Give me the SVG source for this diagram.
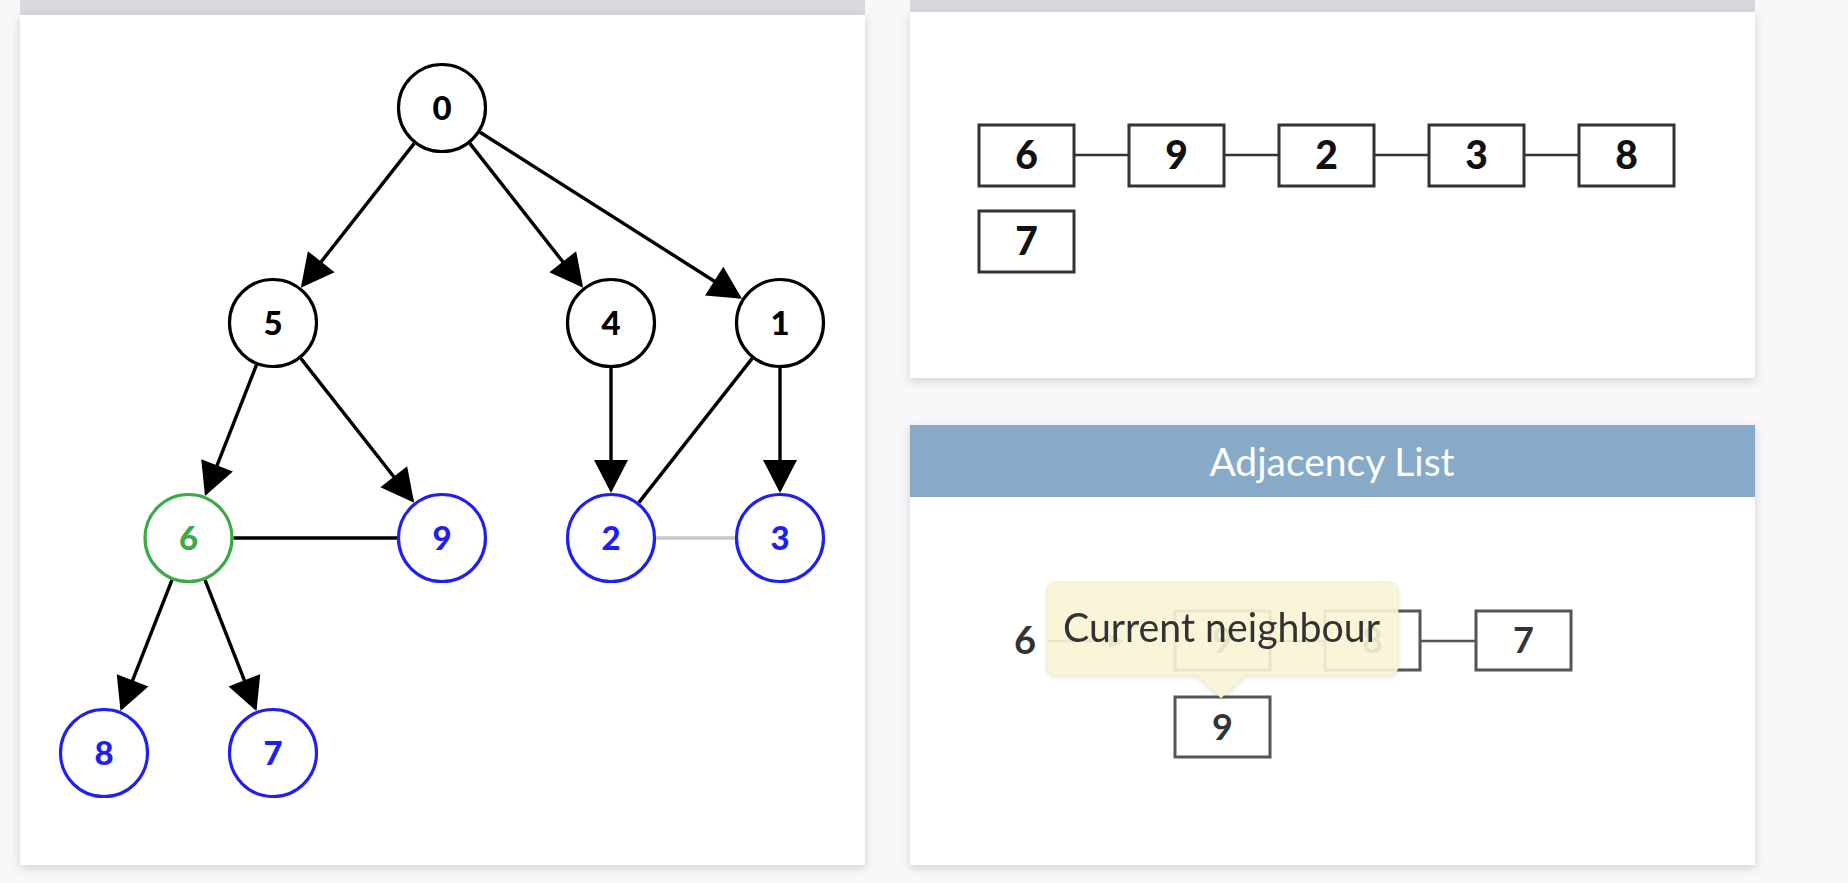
<svg xmlns="http://www.w3.org/2000/svg" width="1848" height="883" viewBox="0 0 1848 883">
<defs>
<filter id="sh" x="-5%" y="-5%" width="110%" height="110%">
<feDropShadow dx="0" dy="3" stdDeviation="5" flood-color="#000" flood-opacity="0.16"/>
</filter>
<filter id="tsh" x="-5%" y="-10%" width="110%" height="125%">
<feDropShadow dx="0" dy="2" stdDeviation="2" flood-color="#000" flood-opacity="0.12"/>
</filter>
<marker id="ah" markerUnits="userSpaceOnUse" markerWidth="36" markerHeight="36" refX="30" refY="17" orient="auto" overflow="visible">
<path d="M0,0 L33,17 L0,34 z" fill="#000"/>
</marker>
<marker id="sah" markerUnits="userSpaceOnUse" markerWidth="16" markerHeight="16" refX="14" refY="7" orient="auto" overflow="visible">
<path d="M0,0 L15,7 L0,14 z" fill="#555"/>
</marker>
</defs>
<style>
.panel{fill:#fff;filter:url(#sh)}
.band{fill:#d9d9dd}
.node circle{fill:#fff;stroke-width:3.2}
.blk circle{stroke:#000}
.blk text{fill:#000}
.grn circle{stroke:#3aaa46}
.grn text{fill:#3aaa46}
.blu circle{stroke:#1f1ff2}
.blu text{fill:#1f1ff2}
.node text{font-family:Lato,"Liberation Sans",sans-serif;font-weight:900;font-size:33px;text-anchor:middle}
.edge{stroke:#000;stroke-width:3.4;fill:none}
.arr{marker-end:url(#ah)}
.box rect{fill:#fff;stroke:#333;stroke-width:3}
.box text{font-family:Lato,"Liberation Sans",sans-serif;font-weight:900;font-size:39px;text-anchor:middle;fill:#111}
.box2 rect{fill:#fff;stroke:#555;stroke-width:3}
.box2 text{font-family:Lato,"Liberation Sans",sans-serif;font-weight:bold;font-size:36px;text-anchor:middle;fill:#333}
.link{stroke:#333;stroke-width:2.5}
.link2{stroke:#555;stroke-width:2.5}
</style>
<rect x="0" y="0" width="1848" height="883" fill="#f8f8fa"/>

<!-- panels -->
<g id="panel-graph">
<rect class="band" x="20" y="0" width="845" height="15"/>
<rect class="panel" x="20" y="15" width="845" height="850"/>
</g>
<g id="panel-queue">
<rect class="band" x="910" y="0" width="845" height="12"/>
<rect class="panel" x="910" y="12" width="845" height="366"/>
</g>
<g id="panel-adj">
<rect class="panel" x="910" y="425" width="845" height="440"/>
<rect x="910" y="425" width="845" height="72" fill="#88aac9"/>
<text x="1332" y="476" font-family="Lato,'Liberation Sans',sans-serif" font-size="39" fill="#fff" text-anchor="middle">Adjacency List</text>
</g>

<!-- connectors -->
<g id="connectors">
<line class="edge arr" x1="414.2" y1="143.4" x2="302.7" y2="285.3"/>
<line class="edge arr" x1="469.8" y1="143.4" x2="581.3" y2="285.3"/>
<line class="edge arr" x1="480" y1="132.2" x2="739.5" y2="297.2"/>
<line class="edge arr" x1="256.5" y1="364.9" x2="206.1" y2="493.3"/>
<line class="edge arr" x1="300.8" y1="358.4" x2="412.3" y2="500.3"/>
<line class="edge arr" x1="611" y1="368" x2="611" y2="490"/>
<line class="edge arr" x1="780" y1="368" x2="780" y2="490"/>
<line class="edge" x1="752.2" y1="358.4" x2="638.8" y2="502.6"/>
<line class="edge" x1="233.5" y1="538" x2="397" y2="538"/>
<line class="edge" x1="656" y1="538" x2="735" y2="538" style="stroke:#c8c8c8"/>
<line class="edge arr" x1="172" y1="579.9" x2="121.6" y2="708.3"/>
<line class="edge arr" x1="205" y1="579.9" x2="255.4" y2="708.3"/>
</g>

<!-- graph nodes -->
<g id="n0" class="node blk"><circle cx="442" cy="108" r="43.5"/><text x="442" y="120">0</text></g>
<g id="n5" class="node blk"><circle cx="273" cy="323" r="43.5"/><text x="273" y="335">5</text></g>
<g id="n4" class="node blk"><circle cx="611" cy="323" r="43.5"/><text x="611" y="335">4</text></g>
<g id="n1" class="node blk"><circle cx="780" cy="323" r="43.5"/><text x="780" y="335">1</text></g>
<g id="n6" class="node grn"><circle cx="188.5" cy="538" r="43.5"/><text x="188.5" y="550">6</text></g>
<g id="n9" class="node blu"><circle cx="442" cy="538" r="43.5"/><text x="442" y="550">9</text></g>
<g id="n2" class="node blu"><circle cx="611" cy="538" r="43.5"/><text x="611" y="550">2</text></g>
<g id="n3" class="node blu"><circle cx="780" cy="538" r="43.5"/><text x="780" y="550">3</text></g>
<g id="n8" class="node blu"><circle cx="104" cy="753" r="43.5"/><text x="104" y="765">8</text></g>
<g id="n7" class="node blu"><circle cx="273" cy="753" r="43.5"/><text x="273" y="765">7</text></g>

<!-- queue -->
<g id="queue-links">
<line class="link" x1="1074" y1="155" x2="1129" y2="155"/>
<line class="link" x1="1224" y1="155" x2="1279" y2="155"/>
<line class="link" x1="1374" y1="155" x2="1429" y2="155"/>
<line class="link" x1="1524" y1="155" x2="1579" y2="155"/>
</g>
<g id="q6" class="box"><rect x="979" y="125" width="95" height="61"/><text x="1026.5" y="169">6</text></g>
<g id="q9" class="box"><rect x="1129" y="125" width="95" height="61"/><text x="1176.5" y="169">9</text></g>
<g id="q2" class="box"><rect x="1279" y="125" width="95" height="61"/><text x="1326.5" y="169">2</text></g>
<g id="q3" class="box"><rect x="1429" y="125" width="95" height="61"/><text x="1476.5" y="169">3</text></g>
<g id="q8" class="box"><rect x="1579" y="125" width="95" height="61"/><text x="1626.5" y="169">8</text></g>
<g id="q7" class="box"><rect x="979" y="211" width="95" height="61"/><text x="1026.5" y="255">7</text></g>

<!-- adjacency list -->
<g id="adj-links">
<line class="link2" x1="1048" y1="641" x2="1123" y2="641" marker-end="url(#sah)"/>
<line class="link2" x1="1270" y1="641" x2="1325" y2="641"/>
<line class="link2" x1="1420" y1="641" x2="1476" y2="641"/>
</g>
<g id="adj-head"><text x="1025" y="654" font-family="Lato,'Liberation Sans',sans-serif" font-weight="bold" font-size="38" fill="#333" text-anchor="middle">6</text></g>
<g id="a9" class="box2"><rect x="1175" y="611" width="95" height="59"/><text x="1222.5" y="653">9</text></g>
<g id="a8" class="box2"><rect x="1325" y="611" width="95" height="59"/><text x="1372.5" y="653">8</text></g>
<g id="a7" class="box2"><rect x="1476" y="611" width="95" height="59"/><text x="1523.5" y="653">7</text></g>
<g id="a9b" class="box2"><rect x="1175" y="697" width="95" height="60"/><text x="1222.5" y="740">9</text></g>

<!-- tooltip -->
<g id="tooltip" filter="url(#tsh)">
<path d="M1055,582 H1390 a8,8 0 0 1 8,8 V667 a8,8 0 0 1 -8,8 H1246 L1221,698 L1197,675 H1055 a8,8 0 0 1 -8,-8 V590 a8,8 0 0 1 8,-8 z" fill="#fbf4d6" fill-opacity="0.9" stroke="#ece2b8" stroke-opacity="0.6" stroke-width="1"/>
<text x="1063" y="642" font-family="Lato,'Liberation Sans',sans-serif" font-size="40" fill="#333" textLength="317" lengthAdjust="spacingAndGlyphs">Current neighbour</text>
</g>
</svg>
